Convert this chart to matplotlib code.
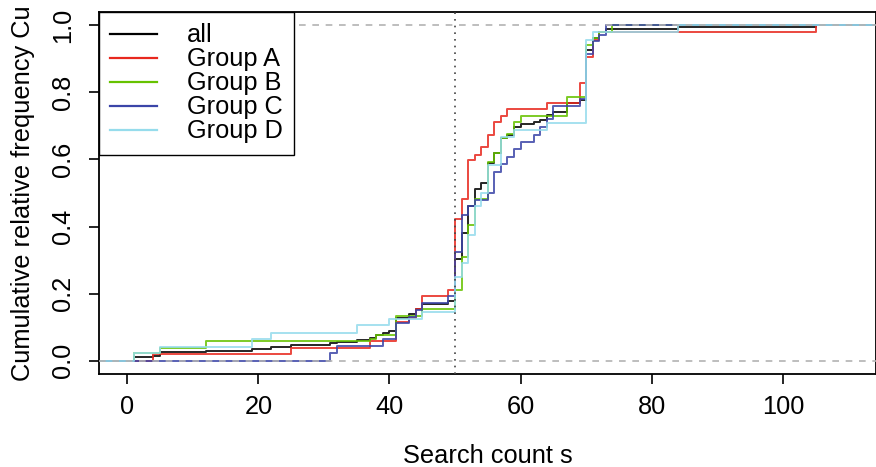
import numpy as np
import matplotlib
matplotlib.use('Agg')
import matplotlib.pyplot as plt

plt.rcParams['font.family'] = ['Liberation Sans', 'DejaVu Sans']

# jump positions (search count) and cumulative frequency after each jump
all_x = [1, 4, 5, 12, 19, 22, 25, 31, 32, 35, 37, 38, 39, 40, 41, 43, 44, 45, 49,
         50, 51, 52, 53, 54, 55, 56, 57, 58, 59, 60, 62, 63, 64, 65, 67, 69,
         70, 71, 72, 73, 84, 105]
all_y = [0.010, 0.015, 0.025, 0.029, 0.035, 0.040, 0.047, 0.052, 0.055, 0.060, 0.067,
         0.077, 0.082, 0.087, 0.128, 0.138, 0.153, 0.168, 0.178,
         0.303, 0.380, 0.460, 0.511, 0.531, 0.590, 0.620, 0.663, 0.673, 0.696, 0.706,
         0.711, 0.718, 0.733, 0.743, 0.768, 0.778,
         0.926, 0.962, 0.981, 0.988, 0.996, 1.0]

a_x = [4, 25, 37, 41, 43, 44, 45, 49, 50, 51, 52, 53, 54, 55, 56, 57, 58, 64, 69,
       70, 71, 72, 105]
a_y = [0.020, 0.039, 0.057, 0.116, 0.128, 0.153, 0.193, 0.211, 0.422, 0.481, 0.597,
       0.614, 0.636, 0.673, 0.711, 0.731, 0.751, 0.770, 0.827, 0.905, 0.955, 0.980, 1.0]

b_x = [1, 5, 12, 37, 38, 41, 45, 50, 51, 52, 53, 55, 56, 57, 58, 59, 60, 67,
       70, 71, 72, 74]
b_y = [0.022, 0.039, 0.057, 0.064, 0.077, 0.133, 0.153, 0.211, 0.308, 0.405, 0.481,
       0.593, 0.618, 0.663, 0.675, 0.713, 0.731, 0.787, 0.941, 0.961, 0.980, 1.0]

c_x = [31, 32, 39, 41, 43, 44, 45, 49, 50, 51, 52, 53, 55, 56, 57, 58, 59, 60,
       62, 63, 64, 65, 69, 70, 71, 72, 73]
c_y = [0.022, 0.044, 0.064, 0.111, 0.130, 0.150, 0.171, 0.194, 0.325, 0.434, 0.460,
       0.479, 0.501, 0.563, 0.586, 0.608, 0.631, 0.653, 0.673, 0.696, 0.720, 0.760,
       0.780, 0.914, 0.954, 0.971, 1.0]

d_x = [1, 5, 19, 22, 35, 40, 45, 50, 51, 52, 53, 54, 55, 57, 59, 64, 70, 71, 84]
d_y = [0.022, 0.042, 0.064, 0.083, 0.105, 0.125, 0.146, 0.250, 0.292, 0.375, 0.460,
       0.500, 0.584, 0.666, 0.688, 0.708, 0.956, 0.979, 1.0]

series = [
    ('all', all_x, all_y, 'black'),
    ('Group A', a_x, a_y, '#E8281E'),
    ('Group B', b_x, b_y, '#66C200'),
    ('Group C', c_x, c_y, '#3B45A8'),
    ('Group D', d_x, d_y, '#96DCEC'),
]

fs = 18.3

fig = plt.figure(figsize=(8.76, 4.67), dpi=100)
ax = fig.add_axes([99 / 876, 1 - 374 / 467, 777 / 876, 362 / 467])

for name, xs, ys, col in series:
    # extend the ecdf to the plot edges like R does
    x = np.concatenate([[-50], xs, [200]])
    y = np.concatenate([[0], ys, [1]])
    ax.step(x, y, where='post', color=col, lw=1.4, alpha=0.85, label=name)

ax.axhline(0, color='#b3b3b3', ls=(0, (4, 4)), lw=1.2, zorder=5)
ax.axhline(1, color='#b3b3b3', ls=(0, (4, 4)), lw=1.2, zorder=5)
ax.axvline(50, color='#444444', ls=(0, (1, 3)), lw=1.2, zorder=5)

ax.set_xlim(-4.3, 114.2)
ax.set_ylim(-0.04, 1.04)
ax.set_xticks([0, 20, 40, 60, 80, 100])
ax.set_yticks([0, 0.2, 0.4, 0.6, 0.8, 1.0])
ax.set_yticklabels(['0.0', '0.2', '0.4', '0.6', '0.8', '1.0'], rotation=90, va='center')
ax.tick_params(labelsize=fs, length=7, width=1.2)
ax.tick_params(axis='x', pad=8)
ax.tick_params(axis='y', pad=10)
for s in ax.spines.values():
    s.set_linewidth(1.3)

ax.set_xlabel('Search count s', fontsize=fs, labelpad=18)
ax.set_ylabel('Cumulative relative frequency Cu', fontsize=fs, labelpad=12)

leg = ax.legend(loc='upper left', bbox_to_anchor=(0, 1), borderaxespad=0,
                fontsize=fs, frameon=True, fancybox=False, framealpha=1,
                edgecolor='black', handlelength=1.85, handletextpad=1.15,
                labelspacing=0.0, borderpad=0.45)
leg.get_frame().set_linewidth(1.0)
for h in leg.get_lines():
    h.set_alpha(1)
    h.set_linewidth(1.6)

fig.savefig('out.png', dpi=100)
